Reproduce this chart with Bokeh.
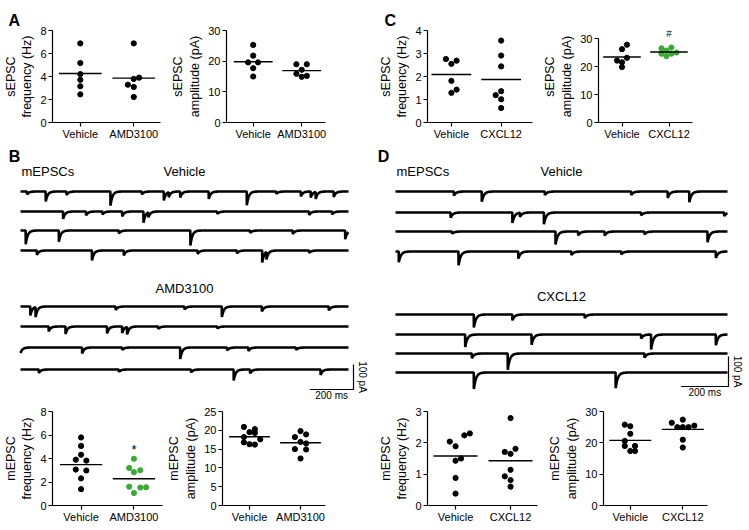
import numpy as np
from bokeh.plotting import figure
from bokeh.layouts import column, row
from bokeh.models import FixedTicker, Title
from bokeh.embed import file_html
from bokeh.resources import INLINE
from bokeh.core.properties import value

FONT = "Liberation Sans"
BLACK = "#000000"
GREEN = "#3aaa35"

# ---------------- data: dot plots ----------------
groups_AB = ["Vehicle", "AMD3100"]
groups_CD = ["Vehicle", "CXCL12"]

# A: sEPSC
sA_freq_veh = [6.88, 5.17, 4.21, 3.71, 3.15, 2.45]
sA_freq_veh_off = [0, 0, 0, 0, 0, 0]
sA_freq_amd = [6.88, 3.79, 3.90, 3.29, 3.09, 2.22]
sA_freq_amd_off = [0, 0, 0.10, -0.11, 0, 0]
sA_freq_mean = [4.26, 3.86]

sA_amp_veh = [25.3, 21.8, 19.6, 19.6, 17.7, 15.0]
sA_amp_veh_off = [0, 0, -0.105, 0.10, 0, 0]
sA_amp_amd = [19.0, 19.0, 17.2, 15.9, 15.2, 14.9]
sA_amp_amd_off = [-0.11, 0.105, 0, -0.11, 0.105, 0]
sA_amp_mean = [19.8, 16.9]

# C: sEPSC
sC_freq_veh = [2.76, 2.69, 2.55, 1.81, 1.43, 1.29]
sC_freq_veh_off = [-0.11, 0.105, 0, 0, 0.105, 0]
sC_freq_cx = [3.56, 2.91, 2.44, 1.36, 1.19, 1.01, 0.63]
sC_freq_cx_off = [0, 0, 0, 0, -0.11, 0, 0]
sC_freq_mean = [2.09, 1.87]

sC_amp_veh = [27.9, 26.3, 23.2, 22.2, 21.6, 19.9]
sC_amp_veh_off = [0.105, 0, 0.105, -0.105, 0, 0]
sC_amp_cx = [26.9, 26.6, 25.8, 24.7, 24.7, 25.1, 23.8]
sC_amp_cx_off = [0.05, -0.16, -0.055, -0.16, 0.05, 0.16, -0.055]
sC_amp_mean = [23.5, 25.3]

# B: mEPSC
mB_freq_veh = [5.79, 5.07, 4.32, 3.90, 3.82, 3.06, 2.98, 2.31, 1.39]
mB_freq_veh_off = [0, 0, 0, -0.1, 0.1, -0.1, 0.1, 0, 0]
mB_freq_amd = [3.98, 3.20, 3.00, 2.84, 1.60, 1.53, 1.55, 1.06]
mB_freq_amd_off = [0, -0.09, 0.12, 0, -0.09, 0.12, 0.23, 0]
mB_freq_mean = [3.48, 2.28]

mB_amp_veh = [20.9, 20.3, 19.5, 19.3, 18.2, 17.6, 16.8, 16.3, 16.2]
mB_amp_veh_off = [-0.11, 0.105, 0, 0.105, -0.11, 0.21, -0.11, 0, 0.105]
mB_amp_amd = [19.8, 18.9, 18.2, 16.9, 16.5, 15.0, 14.9, 12.5]
mB_amp_amd_off = [0, 0.11, -0.11, 0, 0.11, -0.11, 0.11, 0]
mB_amp_mean = [18.3, 16.7]

# D: mEPSC
mD_freq_veh = [2.30, 2.24, 2.04, 1.89, 1.50, 1.43, 0.88, 0.38]
mD_freq_veh_off = [0.26, 0.16, -0.105, 0, 0.1, 0, 0, 0]
mD_freq_cx = [2.79, 1.81, 1.71, 1.65, 1.14, 0.93, 0.81, 0.60]
mD_freq_cx_off = [0, 0.09, -0.105, 0, 0, -0.105, 0, 0]
mD_freq_mean = [1.58, 1.43]

mD_amp_veh = [25.8, 25.3, 22.9, 20.6, 19.0, 19.0, 17.4, 17.4]
mD_amp_veh_off = [-0.105, 0, 0, -0.105, -0.105, 0.09, 0, 0.09]
mD_amp_cx = [27.4, 26.4, 25.5, 25.0, 25.0, 25.0, 21.0, 18.5]
mD_amp_cx_off = [0, -0.21, 0.22, -0.105, 0, 0.11, 0, 0]
mD_amp_mean = [20.8, 24.3]

# ---------------- data: mEPSC traces (event time as fraction of sweep, amplitude pA) ----
B_sweep_ms = 1500
B_traces = [
    [(0.02, 12), (0.077, 40), (0.14, 15), (0.274, 60), (0.37, 12), (0.437, 36), (0.452, 20),
     (0.487, 24), (0.574, 30), (0.69, 55), (0.78, 10), (0.855, 20), (0.885, 24), (0.9, 28), (0.955, 22)],
    [(0.13, 30), (0.2, 16), (0.25, 12), (0.31, 20), (0.375, 45), (0.39, 20), (0.6, 10), (0.88, 14), (0.95, 12)],
    [(0.016, 55), (0.117, 45), (0.3, 12), (0.518, 60), (0.7, 10), (0.83, 14), (0.99, 35)],
    [(0.05, 18), (0.218, 40), (0.315, 20), (0.54, 14), (0.66, 12), (0.737, 48), (0.75, 30), (0.88, 10)],
    [(0.03, 36), (0.046, 40), (0.29, 14), (0.5, 12), (0.614, 42), (0.736, 20), (0.94, 16)],
    [(0.086, 20), (0.137, 32), (0.264, 28), (0.31, 26), (0.325, 30), (0.42, 10), (0.6, 8)],
    [(0.0, 22), (0.188, 24), (0.31, 10), (0.487, 46), (0.63, 12), (0.695, 14), (0.84, 10)],
    [(0.056, 14), (0.3, 10), (0.52, 12), (0.65, 44), (0.7, 16), (0.915, 22)],
]
D_sweep_ms = 1400
D_traces = [
    [(0.176, 14), (0.26, 34), (0.45, 12), (0.71, 12), (0.82, 22), (0.885, 36)],
    [(0.166, 18), (0.352, 36), (0.375, 14), (0.447, 40), (0.74, 10), (0.99, 12)],
    [(0.17, 8), (0.482, 44), (0.55, 14), (0.63, 14), (0.75, 10), (0.94, 36)],
    [(0.01, 36), (0.19, 46), (0.37, 24), (0.53, 12), (0.68, 10), (0.965, 22)],
    [(0.236, 44), (0.352, 20), (0.57, 12)],
    [(0.21, 42), (0.41, 34), (0.74, 14), (0.77, 50), (0.965, 36)],
    [(0.23, 16), (0.338, 56), (0.75, 14)],
    [(0.236, 56), (0.663, 54)],
]
scale_ms = 200
scale_pA = 100


def style_axis(ax):
    ax.axis_line_color = BLACK
    ax.axis_line_width = 1.2
    ax.major_tick_line_color = BLACK
    ax.major_tick_line_width = 1.2
    ax.major_tick_in = 0
    ax.major_tick_out = 4
    ax.minor_tick_line_color = None
    ax.major_label_text_font = FONT
    ax.major_label_text_font_size = "11px"
    ax.major_label_text_color = BLACK


def dotplot(width, height, mbl, mbt, fw, fh, x_range, y_end, y_max, y_ticks, y_label,
            groups, v1, o1, v2, o2, means, c2=BLACK, mark=None, mark_y=None, mark_size="10px",
            letter=None, letter_offset=0):
    p = figure(width=width, height=height, x_range=x_range, y_range=(0, y_end),
               output_backend="svg", toolbar_location=None,
               min_border_left=mbl, min_border_top=mbt,
               min_border_right=width - mbl - fw, min_border_bottom=height - mbt - fh)
    if letter:
        p.add_layout(Title(text=letter, align="left", offset=letter_offset, standoff=4,
                           text_font=FONT, text_font_size="16px", text_font_style="bold",
                           text_color=BLACK), "above")
        p.add_layout(Title(text=" ", standoff=0, text_font_size="4px"), "above")
    p.outline_line_color = None
    p.grid.visible = False
    p.background_fill_color = "white"
    p.border_fill_color = "white"
    style_axis(p.xaxis[0])
    style_axis(p.yaxis[0])
    p.yaxis.ticker = FixedTicker(ticks=y_ticks)
    p.yaxis.bounds = (0, y_max)
    p.yaxis.major_label_standoff = 2
    p.yaxis.axis_label = y_label
    p.yaxis.axis_label_text_font = FONT
    p.yaxis.axis_label_text_font_size = "12.5px"
    p.yaxis.axis_label_text_font_style = "normal"
    p.yaxis.axis_label_text_color = BLACK
    p.yaxis.axis_label_standoff = 3
    p.xaxis.ticker = FixedTicker(ticks=[1, 2])
    p.xaxis.major_label_overrides = {1: groups[0], 2: groups[1]}
    p.xaxis.major_label_standoff = 1
    p.scatter(x=[1 + o for o in o1], y=v1, size=5.2, color=BLACK)
    p.scatter(x=[2 + o for o in o2], y=v2, size=5.2, color=c2)
    p.segment(x0=[0.6, 1.6], x1=[1.4, 2.4], y0=means, y1=means, line_color=BLACK, line_width=1.4)
    if mark:
        p.text(x=[2], y=[mark_y], text=[mark], text_align="center", text_baseline="middle",
               text_font=value(FONT), text_font_size=mark_size, text_color=BLACK)
    return p


# ---------------- row 1 (page y 0..142) ----------------
H1 = 142
fA1 = dotplot(168, H1, 51, 29, 109, 95, (0.48, 2.5), 8, 8, [0, 2, 4, 6, 8],
              "sEPSC\nfrequency (Hz)", groups_AB, sA_freq_veh, sA_freq_veh_off,
              sA_freq_amd, sA_freq_amd_off, sA_freq_mean, letter="A", letter_offset=-44)
fA2 = dotplot(207, H1, 49, 28, 108, 96, (0.45, 2.49), 30, 30, [0, 10, 20, 30],
              "sEPSC\namplitude (pA)", groups_AB, sA_amp_veh, sA_amp_veh_off,
              sA_amp_amd, sA_amp_amd_off, sA_amp_mean)
fC1 = dotplot(165, H1, 43, 29, 114, 95, (0.52, 2.63), 4, 4, [0, 1, 2, 3, 4],
              "sEPSC\nfrequency (Hz)", groups_CD, sC_freq_veh, sC_freq_veh_off,
              sC_freq_cx, sC_freq_cx_off, sC_freq_mean, letter="C", letter_offset=-43)
fC2 = dotplot(209, H1, 44, 18, 108, 106, (0.5, 2.5), 33, 30, [0, 10, 20, 30],
              "sEPSC\namplitude (pA)", groups_CD, sC_amp_veh, sC_amp_veh_off,
              sC_amp_cx, sC_amp_cx_off, sC_amp_mean, c2=GREEN, mark="#", mark_y=31.8)

# ---------------- row 2: traces (page y 142..402) ----------------
TOP2 = 142
H2 = 260
TAU = 9.0


def trace_fig(width, left_px, x0_px, sweep, px_per_ms, pA_per_px,
              baselines_px, traces, cond_labels, cond_y_px, letter, letter_xy,
              head_y_px, scale_corner_px):
    to_t = lambda px: (px - x0_px) / px_per_ms
    to_y = lambda py: (TOP2 + H2 - py) * pA_per_px
    p = figure(width=width, height=H2, x_range=(to_t(left_px), to_t(left_px + width)),
               y_range=(0, H2 * pA_per_px), output_backend="svg", toolbar_location=None,
               x_axis_location=None, y_axis_location=None, min_border=0)
    p.outline_line_color = None
    p.grid.visible = False
    t = np.arange(0, sweep + 0.25, 0.5)
    for bpx, ev in zip(baselines_px, traces):
        base = to_y(bpx)
        y = np.full(t.shape, base, dtype=float)
        for frac, amp in ev:
            t0 = frac * sweep
            m = t >= t0
            y[m] -= amp * np.exp(-(t[m] - t0) / TAU)
        p.line(t, y, line_color=BLACK, line_width=2.6)
    txt = dict(text_font=value(FONT), text_color=BLACK)
    p.text(x=[to_t(letter_xy[0])], y=[to_y(letter_xy[1])], text=[letter], text_align="center",
           text_baseline="middle", text_font_size="16px", text_font_style="bold", **txt)
    p.text(x=[to_t(x0_px + 1)], y=[to_y(head_y_px)], text=["mEPSCs"], text_align="left",
           text_baseline="middle", text_font_size="13px", **txt)
    mid = sweep * 0.5
    p.text(x=[mid, mid], y=[to_y(head_y_px), to_y(cond_y_px)], text=cond_labels,
           text_align="center", text_baseline="middle", text_font_size="13px", **txt)
    cx, cy = scale_corner_px
    xc, yc = to_t(cx), to_y(cy)
    p.line([xc - scale_ms, xc, xc], [yc, yc, yc + scale_pA], line_color=BLACK, line_width=1.2)
    p.text(x=[xc - scale_ms / 2], y=[yc - 6 * pA_per_px], text=[f"{scale_ms} ms"],
           text_align="center", text_baseline="middle", text_font_size="10px", **txt)
    p.text(x=[xc + 9 / px_per_ms], y=[yc + scale_pA / 2], text=[f"{scale_pA} pA"],
           angle=-np.pi / 2, text_align="center", text_baseline="middle",
           text_font_size="10px", **txt)
    return p


trB = trace_fig(375, 0, 20, B_sweep_ms, 328 / B_sweep_ms, 4.0,
                [191, 211, 230, 250, 306, 326, 347, 369], B_traces,
                ["Vehicle", "AMD3100"], 288, "B", (14, 156), 171, (353, 389))
trD = trace_fig(374, 375, 395, D_sweep_ms, 332 / D_sweep_ms, 100 / 30,
                [191, 212, 231, 251, 314, 334, 353, 372], D_traces,
                ["Vehicle", "CXCL12"], 296, "D", (383, 156), 171, (728, 386))

# ---------------- row 3 (page y 402..530) ----------------
H3 = 128
fB1 = dotplot(164, H3, 50, 7, 112, 96, (0.46, 2.54), 8, 8, [0, 2, 4, 6, 8],
              "mEPSC\nfrequency (Hz)", groups_AB, mB_freq_veh, mB_freq_veh_off,
              mB_freq_amd, mB_freq_amd_off, mB_freq_mean, c2=GREEN, mark="*", mark_y=4.75,
              mark_size="13px")
fB2 = dotplot(211, H3, 50, 7, 111, 96, (0.47, 2.49), 25, 25, [0, 5, 10, 15, 20, 25],
              "mEPSC\namplitude (pA)", groups_AB, mB_amp_veh, mB_amp_veh_off,
              mB_amp_amd, mB_amp_amd_off, mB_amp_mean)
fD1 = dotplot(170, H3, 52, 8, 110, 97, (0.49, 2.49), 3, 3, [0, 1, 2, 3],
              "mEPSC\nfrequency (Hz)", groups_CD, mD_freq_veh, mD_freq_veh_off,
              mD_freq_cx, mD_freq_cx_off, mD_freq_mean)
fD2 = dotplot(204, H3, 53, 9, 109, 96, (0.49, 2.47), 30, 30, [0, 10, 20, 30],
              "mEPSC\namplitude (pA)", groups_CD, mD_amp_veh, mD_amp_veh_off,
              mD_amp_cx, mD_amp_cx_off, mD_amp_mean)

layout = column(row(fA1, fA2, fC1, fC2), row(trB, trD), row(fB1, fB2, fD1, fD2))
open("out.html", "w").write(file_html(layout, INLINE))
